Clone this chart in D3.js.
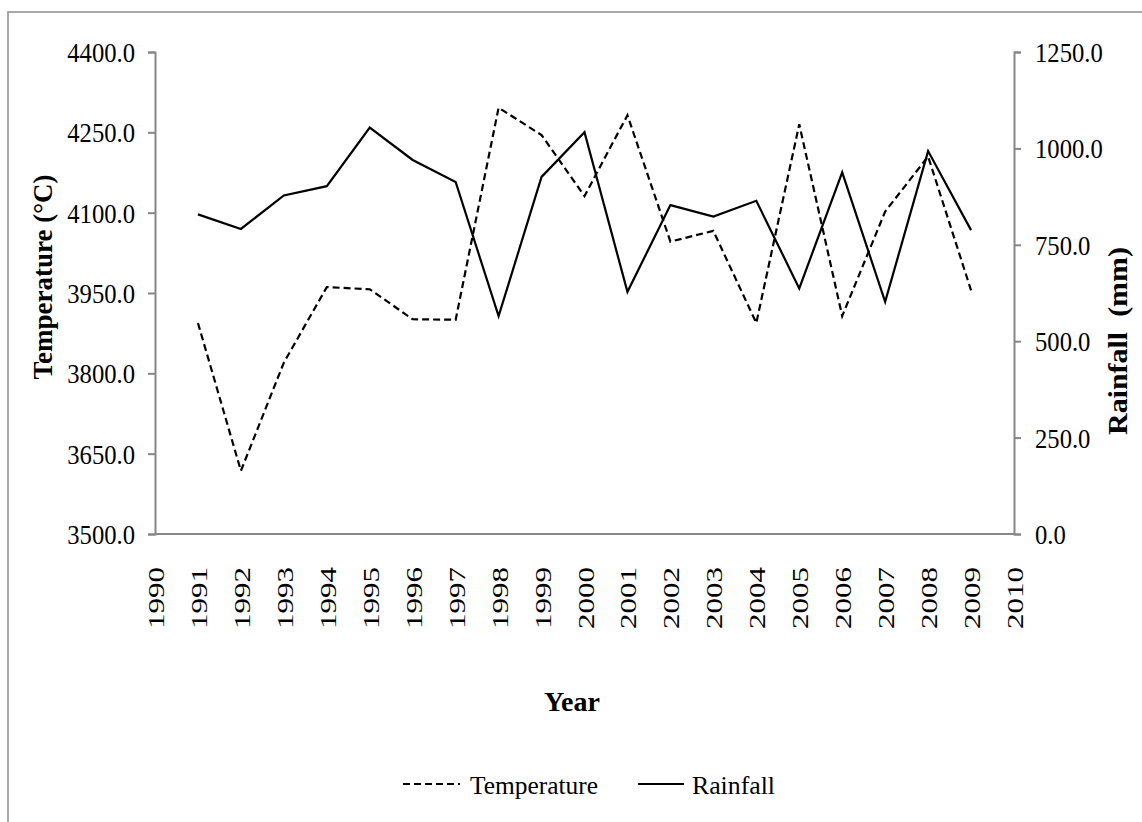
<!DOCTYPE html>
<html>
<head>
<meta charset="utf-8">
<script src="https://cdn.jsdelivr.net/npm/d3@7"></script>
<style>
  html, body { margin: 0; padding: 0; background: #fff; }
  svg { display: block; font-family: "Liberation Serif", "Times New Roman", serif; }
</style>
</head>
<body>
<svg id="chart" width="1142" height="822"></svg>
<script>
// Annual series
const years = [1991, 1992, 1993, 1994, 1995, 1996, 1997, 1998, 1999, 2000,
               2001, 2002, 2003, 2004, 2005, 2006, 2007, 2008, 2009];
const temperature = [3894, 3618, 3820, 3961, 3957, 3901, 3900, 4296, 4245, 4131,
                     4282, 4046, 4066, 3894, 4265, 3907, 4102, 4205, 3955];
const rainfall = [829, 791, 878, 902, 1054, 970, 913, 565, 926, 1042,
                  628, 853, 823, 864, 637, 938, 602, 993, 788];

// Axis ticks
const yearTicks = d3.range(1990, 2011);
const tempTicks = [3500, 3650, 3800, 3950, 4100, 4250, 4400];
const rainTicks = [0, 250, 500, 750, 1000, 1250];

const seriesNames = ["Temperature", "Rainfall"];

const axisColor = "#868686";
const svg = d3.select("#chart");

svg.append("rect").attr("width", 1142).attr("height", 822).attr("fill", "#fff");

// outer frame (runs off the bottom/right edges)
svg.append("rect")
  .attr("x", 8).attr("y", 12).attr("width", 1300).attr("height", 1000)
  .attr("fill", "none").attr("stroke", "#8c8c8c").attr("stroke-width", 1.5);

const x = d3.scaleLinear().domain([1990, 2010]).range([155, 1014]);
const yT = d3.scaleLinear().domain([3500, 4400]).range([534, 52]);
const yR = d3.scaleLinear().domain([0, 1250]).range([534, 52]);

// squeeze text horizontally to a given fraction of its natural width
function squeeze(sel, ratio) {
  sel.each(function () {
    const w = this.getComputedTextLength();
    d3.select(this).attr("textLength", w * ratio).attr("lengthAdjust", "spacingAndGlyphs");
  });
}

// left axis
const gL = svg.append("g").attr("transform", `translate(${x(1990)},0)`)
  .call(d3.axisLeft(yT).tickValues(tempTicks).tickFormat(d3.format(".1f")).tickSize(7).tickPadding(13));
// right axis
const gR = svg.append("g").attr("transform", `translate(${x(2010)},0)`)
  .call(d3.axisRight(yR).tickValues(rainTicks).tickFormat(d3.format(".1f")).tickSize(7).tickPadding(14));

[gL, gR].forEach(g => {
  g.select(".domain").attr("stroke", axisColor).attr("stroke-width", 2);
  g.selectAll(".tick line").attr("stroke", axisColor).attr("stroke-width", 2);
  const t = g.selectAll(".tick text")
    .attr("fill", "#000").attr("font-size", 28)
    .attr("font-family", "Liberation Serif, Times New Roman, serif")
    .attr("dy", "0.34em");
  squeeze(t, 0.88);
});

// bottom axis line
svg.append("line")
  .attr("x1", x(1990)).attr("x2", x(2010))
  .attr("y1", yT(3500)).attr("y2", yT(3500))
  .attr("stroke", axisColor).attr("stroke-width", 2);

// rotated year labels
svg.append("g").selectAll("text").data(yearTicks).join("text")
  .attr("transform", d => `translate(${x(d) + 9},629) rotate(-90)`)
  .attr("text-anchor", "start")
  .attr("font-size", 24)
  .attr("textLength", 62).attr("lengthAdjust", "spacingAndGlyphs")
  .text(d => d);

// series lines
const lineT = d3.line().x((d, i) => x(years[i])).y(d => yT(d));
const lineR = d3.line().x((d, i) => x(years[i])).y(d => yR(d));

svg.append("path").datum(temperature)
  .attr("d", lineT).attr("fill", "none").attr("stroke", "#000")
  .attr("stroke-width", 2.2).attr("stroke-dasharray", "7,4");
svg.append("path").datum(rainfall)
  .attr("d", lineR).attr("fill", "none").attr("stroke", "#000")
  .attr("stroke-width", 2.2);

// axis titles
svg.append("text")
  .attr("transform", "translate(52,277) rotate(-90)")
  .attr("text-anchor", "middle").attr("font-weight", "bold").attr("font-size", 27)
  .attr("textLength", 205).attr("lengthAdjust", "spacingAndGlyphs")
  .text("Temperature (°C)");
svg.append("text")
  .attr("transform", "translate(1127,341) rotate(-90)")
  .attr("text-anchor", "middle").attr("font-weight", "bold").attr("font-size", 27)
  .attr("textLength", 188).attr("lengthAdjust", "spacingAndGlyphs")
  .attr("xml:space", "preserve").style("white-space", "pre")
  .text("Rainfall  (mm)");
svg.append("text")
  .attr("x", 572).attr("y", 711)
  .attr("text-anchor", "middle").attr("font-weight", "bold").attr("font-size", 27)
  .attr("textLength", 56).attr("lengthAdjust", "spacingAndGlyphs")
  .text("Year");

// legend
const legend = [
  { name: seriesNames[0], x0: 403, x1: 460, tx: 470, tw: 128, dash: "7,4" },
  { name: seriesNames[1], x0: 638, x1: 684, tx: 692, tw: 83, dash: null }
];
const lg = svg.append("g");
legend.forEach(l => {
  lg.append("line").attr("x1", l.x0).attr("x2", l.x1).attr("y1", 784).attr("y2", 784)
    .attr("stroke", "#000").attr("stroke-width", 2.2)
    .attr("stroke-dasharray", l.dash);
  lg.append("text").attr("x", l.tx).attr("y", 794).attr("font-size", 26)
    .attr("textLength", l.tw).attr("lengthAdjust", "spacingAndGlyphs")
    .text(l.name);
});
</script>
</body>
</html>
